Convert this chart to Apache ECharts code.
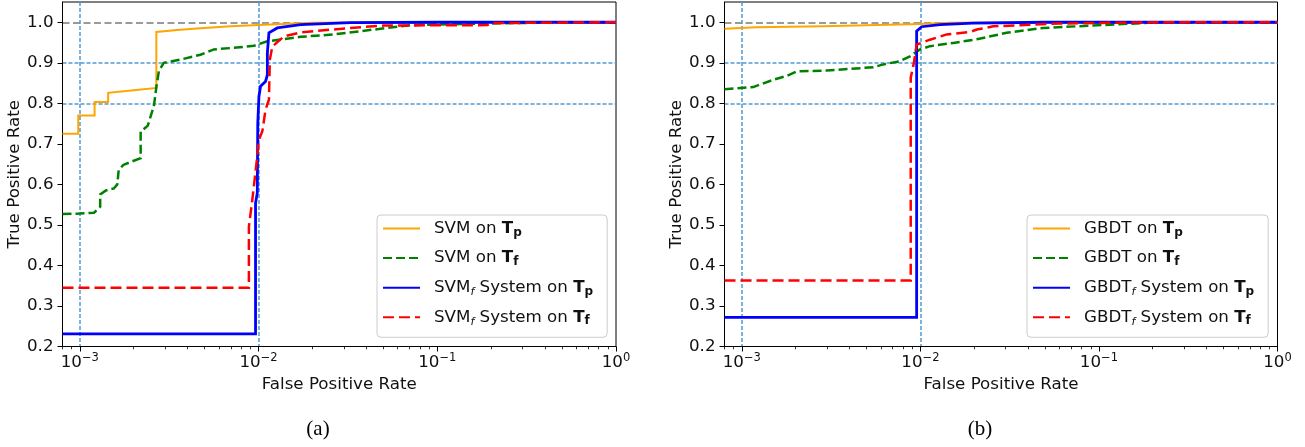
<!DOCTYPE html>
<html>
<head>
<meta charset="utf-8">
<script src="https://cdn.jsdelivr.net/npm/echarts@6/dist/echarts.min.js"></script>
<style>
  html, body { margin: 0; padding: 0; background: #fff; }
  #chart { width: 1305px; height: 447px; }
</style>
</head>
<body>
<div id="chart"></div>
<script>
// ROC curves, [false positive rate, true positive rate]
const svmTp = [[8e-4,0.725],[9.8e-4,0.725],[9.8e-4,0.77],[1.21e-3,0.77],[1.21e-3,0.803],[1.44e-3,0.803],[1.44e-3,0.826],[2.0e-3,0.832],[2.68e-3,0.838],[2.68e-3,0.976],[3.5e-3,0.981],[4.73e-3,0.985],[7e-3,0.99],[0.01,0.993],[0.0138,0.996],[0.02,0.999],[0.05,1.0],[1,1.0]];
const svmTf = [[8e-4,0.527],[1.0e-3,0.528],[1.2e-3,0.53],[1.3e-3,0.545],[1.3e-3,0.575],[1.4e-3,0.585],[1.55e-3,0.59],[1.62e-3,0.6],[1.65e-3,0.635],[1.75e-3,0.648],[1.97e-3,0.657],[2.19e-3,0.665],[2.19e-3,0.73],[2.4e-3,0.745],[2.5e-3,0.77],[2.6e-3,0.795],[2.68e-3,0.84],[2.77e-3,0.88],[2.95e-3,0.9],[3.66e-3,0.908],[4.73e-3,0.92],[5.62e-3,0.933],[7.28e-3,0.937],[9.42e-3,0.942],[0.0112,0.953],[0.0138,0.958],[0.0172,0.964],[0.0263,0.97],[0.0482,0.984],[0.071,0.993],[0.19,0.997],[0.58,1.0],[1,1.0]];
const svmSysTp = [[8e-4,0.231],[9.62e-3,0.231],[9.62e-3,0.554],[9.84e-3,0.579],[9.9e-3,0.75],[0.01005,0.817],[0.01026,0.842],[0.01094,0.854],[0.0112,0.87],[0.0112,0.924],[0.01143,0.974],[0.01273,0.986],[0.0172,0.994],[0.0327,0.999],[0.1,1.0],[1,1.0]];
const svmSysTf = [[8e-4,0.345],[8.83e-3,0.345],[8.83e-3,0.496],[9.23e-3,0.562],[9.84e-3,0.67],[0.01005,0.71],[0.0105,0.731],[0.01094,0.784],[0.01143,0.809],[0.01157,0.908],[0.01194,0.94],[0.01387,0.965],[0.0172,0.975],[0.0327,0.986],[0.0502,0.992],[0.191,0.993],[0.198,0.998],[1,1.0]];

const gbdtTp = [[8e-4,0.984],[1.21e-3,0.988],[2.86e-3,0.99],[0.01,0.996],[0.0147,0.999],[0.05,1.0],[1,1.0]];
const gbdtTf = [[8e-4,0.835],[1.16e-3,0.84],[1.26e-3,0.846],[1.5e-3,0.858],[1.79e-3,0.868],[2.03e-3,0.879],[2.99e-3,0.881],[5.45e-3,0.889],[6.2e-3,0.896],[7.69e-3,0.904],[8.74e-3,0.916],[9.95e-3,0.933],[0.01132,0.941],[0.0153,0.949],[0.0207,0.958],[0.0304,0.974],[0.0488,0.986],[0.0929,0.992],[0.219,1.0],[1,1.0]];
const gbdtSysTp = [[8e-4,0.272],[9.53e-3,0.272],[9.53e-3,0.978],[0.01016,0.989],[0.0129,0.994],[0.0197,0.998],[0.05,1.0],[1,1.0]];
const gbdtSysTf = [[8e-4,0.363],[8.83e-3,0.363],[8.83e-3,0.863],[9.2e-3,0.9],[9.53e-3,0.945],[0.01132,0.957],[0.01403,0.97],[0.019,0.976],[0.0207,0.982],[0.0256,0.99],[0.0604,0.997],[0.219,1.0],[1,1.0]];

const xMajor = [1e-3, 1e-2, 1e-1, 1];
const xExponents = ['\u22123', '\u22122', '\u22121', '0'];
const xMinor = [8e-4, 9e-4, 2e-3, 3e-3, 4e-3, 5e-3, 6e-3, 7e-3, 8e-3, 9e-3,
  2e-2, 3e-2, 4e-2, 5e-2, 6e-2, 7e-2, 8e-2, 9e-2, 0.2, 0.3, 0.4, 0.5, 0.6, 0.7, 0.8, 0.9];
const yTicks = [0.2, 0.3, 0.4, 0.5, 0.6, 0.7, 0.8, 0.9, 1.0];
const xGuides = [1e-3, 1e-2];
const yGuides = [0.8, 0.9];
const yPerfect = [1.0];
const captions = ['(a)', '(b)'];

const F = 'DejaVu Sans';
const FS = 16.7;
const TXT = '#111';
const GUIDE = '#4f9ad6';

const rich = {
  sp: {width: 9},
  n: {fontSize: FS, fontFamily: F, color: TXT, lineHeight: 20},
  b: {fontSize: FS, fontFamily: F, fontWeight: 'bold', color: TXT, lineHeight: 20},
  bs: {fontSize: 12, fontFamily: F, fontWeight: 'bold', color: TXT, verticalAlign: 'bottom', lineHeight: 11},
  fi: {fontSize: 11, fontFamily: F, fontStyle: 'italic', color: TXT, verticalAlign: 'bottom', lineHeight: 11}
};

function legendText(name) {
  // name like "SVM on Tp" or "SVMf System on Tf"
  let m = name.match(/^(\w+?)(f)? (System )?on T(\w)$/);
  let s = '{sp|}{n|' + m[1] + '}';
  if (m[2]) s += '{fi|f}';
  s += '{n| ' + (m[3] || '') + 'on }{b|T}{bs|' + m[4] + '}';
  return s;
}

const grids = [
  {left: 62.5, right: 689, top: 2, bottom: 100.5},
  {left: 724.5, right: 27.5, top: 2, bottom: 100.5}
];

const xAxes = [];
const yAxes = [];
grids.forEach((g, i) => {
  const logX = () => ({type: 'log', logBase: 10, gridIndex: i, min: 8e-4, max: 1, position: 'bottom'});
  const linY = () => ({type: 'value', gridIndex: i, min: 0.2, max: 1.05, interval: 0.1, position: 'left'});
  xAxes.push(Object.assign(logX(), {
    name: 'False Positive Rate', nameLocation: 'middle', nameGap: 27,
    nameTextStyle: {fontSize: FS, fontFamily: F, color: TXT},
    axisLine: {show: true, lineStyle: {color: '#000', width: 1}},
    axisTick: {show: true, length: 5, customValues: xMajor, lineStyle: {color: '#000'}},
    axisLabel: {
      customValues: xMajor, margin: 6,
      formatter: v => {
        const k = xMajor.findIndex(t => Math.abs(Math.log10(t) - Math.log10(v)) < 1e-6);
        return '{b|10}{s|' + xExponents[k] + '}';
      },
      rich: {
        b: {fontSize: FS, fontFamily: F, color: TXT, lineHeight: 20},
        s: {fontSize: 11.5, fontFamily: F, color: TXT, verticalAlign: 'top', lineHeight: 12}
      }
    },
    splitLine: {show: false}
  }));
  // minor ticks
  xAxes.push(Object.assign(logX(), {
    axisLine: {show: false}, axisLabel: {show: false},
    axisTick: {show: true, length: 2.8, customValues: xMinor, lineStyle: {color: '#000', width: 0.8}},
    splitLine: {show: false}
  }));
  // vertical guides
  xAxes.push(Object.assign(logX(), {
    axisLine: {show: false}, axisLabel: {show: false},
    axisTick: {show: false, customValues: xGuides},
    splitLine: {show: true, lineStyle: {color: GUIDE, width: 1.5, type: [4, 2]}}
  }));
  yAxes.push(Object.assign(linY(), {
    name: 'True Positive Rate', nameLocation: 'middle', nameGap: 38,
    nameTextStyle: {fontSize: FS, fontFamily: F, color: TXT},
    axisLine: {show: true, lineStyle: {color: '#000', width: 1}},
    axisTick: {show: true, length: 5, customValues: yTicks, lineStyle: {color: '#000'}},
    axisLabel: {customValues: yTicks, margin: 9, fontSize: FS, fontFamily: F, color: TXT, formatter: v => v.toFixed(1)},
    splitLine: {show: false}
  }));
  // horizontal guides
  yAxes.push(Object.assign(linY(), {
    axisLine: {show: false}, axisLabel: {show: false},
    axisTick: {show: false, customValues: yGuides},
    splitLine: {show: true, lineStyle: {color: GUIDE, width: 1.5, type: [4, 2]}}
  }));
  yAxes.push(Object.assign(linY(), {
    axisLine: {show: false}, axisLabel: {show: false},
    axisTick: {show: false, customValues: yPerfect},
    splitLine: {show: true, lineStyle: {color: '#9a9a9a', width: 1.8, type: [7, 3.5]}}
  }));
});

function curve(name, data, gi, color, width, dash) {
  return {
    name, type: 'line', data, xAxisIndex: gi * 3, yAxisIndex: gi * 3,
    showSymbol: false, symbol: 'none', z: 3,
    lineStyle: {color, width, type: dash || 'solid', cap: 'butt', join: 'miter'},
    itemStyle: {color}, emphasis: {disabled: true}
  };
}

const series = [
  curve('SVM on Tp', svmTp, 0, '#ffa500', 2),
  curve('SVM on Tf', svmTf, 0, '#008000', 2.5, [9, 4]),
  curve('SVMf System on Tp', svmSysTp, 0, '#0000ff', 2.8),
  curve('SVMf System on Tf', svmSysTf, 0, '#ff0000', 2.5, [11, 5]),
  curve('GBDT on Tp', gbdtTp, 1, '#ffa500', 2),
  curve('GBDT on Tf', gbdtTf, 1, '#008000', 2.5, [9, 4]),
  curve('GBDTf System on Tp', gbdtSysTp, 1, '#0000ff', 2.8),
  curve('GBDTf System on Tf', gbdtSysTf, 1, '#ff0000', 2.5, [11, 5])
];

function legend(names, left) {
  return {
    data: names, orient: 'vertical', left, top: 215,
    itemWidth: 37, itemHeight: 14, itemGap: 11.1,
    padding: [5, 14, 10, 5],
    backgroundColor: 'rgba(255,255,255,0.85)', borderColor: '#ccc', borderWidth: 1, borderRadius: 4,
    selectedMode: false,
    itemStyle: {opacity: 0},
    formatter: legendText,
    textStyle: {rich, fontSize: FS, fontFamily: F, color: TXT}
  };
}

const capStyle = {fontFamily: 'Liberation Serif', fontSize: 21, fontWeight: 'normal', color: '#000'};

const chart = echarts.init(document.getElementById('chart'), null, {renderer: 'canvas'});
chart.setOption({
  backgroundColor: '#fff',
  animation: false,
  grid: grids.map(g => Object.assign({show: true, borderColor: '#000', borderWidth: 1, backgroundColor: 'transparent'}, g)),
  xAxis: xAxes,
  yAxis: yAxes,
  legend: [
    legend(['SVM on Tp', 'SVM on Tf', 'SVMf System on Tp', 'SVMf System on Tf'], 377),
    legend(['GBDT on Tp', 'GBDT on Tf', 'GBDTf System on Tp', 'GBDTf System on Tf'], 1027)
  ],
  title: [
    {text: captions[0], left: 318, top: 419, textAlign: 'center', padding: 0, textStyle: capStyle},
    {text: captions[1], left: 980, top: 419, textAlign: 'center', padding: 0, textStyle: capStyle}
  ],
  series
});
</script>
</body>
</html>
